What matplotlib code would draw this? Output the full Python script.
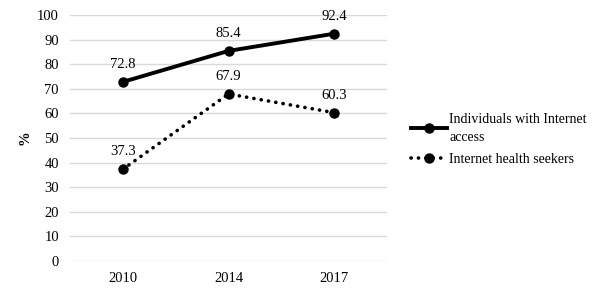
import matplotlib
matplotlib.use("Agg")
import matplotlib.pyplot as plt
from matplotlib.lines import Line2D

years = ["2010", "2014", "2017"]
access = [72.8, 85.4, 92.4]
seekers = [37.3, 67.9, 60.3]
yticks = [0, 10, 20, 30, 40, 50, 60, 70, 80, 90, 100]

plt.rcParams['font.family'] = ['Liberation Serif', 'DejaVu Serif']

fig = plt.figure(figsize=(6.0, 2.94), dpi=100)
ax = fig.add_axes([70/600, 1-261/294, 317/600, (261-15)/294])

dot = (0, (0.05, 2.0))
x = list(range(len(years)))
ax.plot(x, access, color='black', lw=2.8, marker='o', ms=6.5, solid_capstyle='round')
ax.plot(x, seekers, color='black', lw=2.6, ls=dot, marker='o', ms=6.5, dash_capstyle='round')

for xi, v in zip(x, access):
    ax.annotate(f"{v}", (xi, v), xytext=(0, 8), textcoords='offset points', ha='center', va='bottom', fontsize=10.5)
for xi, v in zip(x, seekers):
    ax.annotate(f"{v}", (xi, v), xytext=(0, 8), textcoords='offset points', ha='center', va='bottom', fontsize=10.5)

ax.set_xlim(-0.5, len(years) - 0.5)
ax.set_ylim(0, 100)
ax.set_yticks(yticks)
ax.set_xticks(x)
ax.set_xticklabels(years)
ax.tick_params(axis='both', length=0, labelsize=10.5)
ax.tick_params(axis='y', pad=8)
ax.tick_params(axis='x', pad=8)
ax.grid(axis='y', color='#d9d9d9', lw=1)
ax.set_axisbelow(True)
for s in ax.spines.values():
    s.set_visible(False)
ax.set_ylabel('%', fontsize=10.5, fontweight='bold', labelpad=4)

h1 = Line2D([], [], color='black', lw=2.8, marker='o', ms=6.5)
h2 = Line2D([], [], color='black', lw=2.6, ls=dot, marker='o', ms=6.5, dash_capstyle='round')
leg = fig.legend([h1, h2], ["Individuals with Internet\naccess", "Internet health seekers"],
           loc='upper left', bbox_to_anchor=(405/600, 1-107/294), frameon=False,
           fontsize=10, handlelength=2.6, handletextpad=0.2, labelspacing=0.7, borderaxespad=0)
for t in leg.get_texts():
    t.set_linespacing(1.5)

fig.savefig("out.png", dpi=100)
